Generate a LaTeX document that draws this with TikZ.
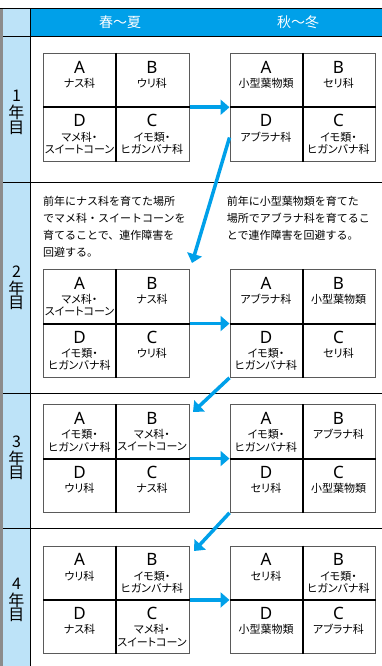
\documentclass[tikz,border=0pt]{standalone}
\usepackage{fontspec}
\setmainfont{Noto Sans}
\newfontfamily\jp{Noto Sans CJK JP}
\newfontfamily\jpp[RawFeature=+palt]{Noto Sans CJK JP}
\usetikzlibrary{arrows.meta,calc}
\definecolor{hblue}{RGB}{0,160,233}
\definecolor{lblue}{RGB}{189,227,248}
\definecolor{gborder}{RGB}{90,90,90}
\definecolor{lgray}{RGB}{140,140,140}
\tikzset{
 letter/.style={font=\fontsize{17}{17}\selectfont, inner sep=0pt},
 lab/.style={font=\jpp\fontsize{11}{11}\selectfont, inner sep=0pt},
 para/.style={font=\jp\fontsize{11}{11}\selectfont, anchor=west, inner sep=0pt},
 yr/.style={font=\jp\fontsize{16}{16}\selectfont, inner sep=0pt},
 hdr/.style={font=\jp\fontsize{14}{14}\selectfont, text=white, inner sep=0pt},
 gridbox/.style={draw=gborder, line width=1pt, fill=white, minimum width=145.5pt, minimum height=107.5pt, inner sep=0pt, anchor=north west},
 cross/.style={line width=2pt, black},
 arr/.style={draw=hblue, line width=3.5pt, -{Triangle[width=15pt,length=9pt]}},
 rule/.style={black, line width=1pt}
}
\newcommand\mkgrid[3]{%
 \node[gridbox] (#1) at (#2,#3) {};
 \draw[cross] (#1.north) -- (#1.south);
 \draw[cross] (#1.west) -- (#1.east);
 \node[letter] (#1A) at (#2+36.5,#3+14) {A};
 \node[letter] (#1B) at (#2+109,#3+14) {B};
 \node[letter] (#1D) at (#2+36.5,#3+67.7) {D};
 \node[letter] (#1C) at (#2+109,#3+67.7) {C};
}
\newcommand\cellt[6]{%
 \node[lab] (#1#2a) at (#3,#4+30.2) {#5};
 \node[lab] (#1#2b) at (#3,#4+42.5) {#6};
}
\begin{document}
\begin{tikzpicture}[x=1pt,y=-1pt]
\useasboundingbox (0,0) rectangle (382,666);
\fill[white] (0,0) rectangle (382,666);
% frame
\fill[hblue] (30.5,9) rectangle (382,36.5);
\fill[lblue] (3,9) rectangle (30.5,666);
\fill[lgray] (0,8.5) rectangle (3,666);
\draw[rule] (0,8.5) -- (382,8.5);
\draw[rule] (30.5,8.5) -- (30.5,666);
\foreach \yy in {36.5,182.5,393.5,528.5} \draw[rule] (3,\yy) -- (382,\yy);
% header
\node[hdr] (h1) at (120,22.5) {春～夏};
\node[hdr] (h2) at (298,22.5) {秋～冬};
% year labels
\node[yr] (y1a) at (16.5,96) {1};
\node[yr] (y1b) at (16.5,112.5) {年};
\node[yr] (y1c) at (16.5,127.5) {目};
\node[yr] (y2a) at (16.5,271.5) {2};
\node[yr] (y2b) at (16.5,288) {年};
\node[yr] (y2c) at (16.5,303) {目};
\node[yr] (y3a) at (16.5,441.5) {3};
\node[yr] (y3b) at (16.5,458) {年};
\node[yr] (y3c) at (16.5,473) {目};
\node[yr] (y4a) at (16.5,583.5) {4};
\node[yr] (y4b) at (16.5,600) {年};
\node[yr] (y4c) at (16.5,615) {目};
% paragraphs
\node[para] (p1) at (43,201) {前年にナス科を育てた場所};
\node[para] (p2) at (43,218) {でマメ科・スイートコーンを};
\node[para] (p3) at (43,235) {育てることで、連作障害を};
\node[para] (p4) at (43,252) {回避する。};
\node[para] (q1) at (226.7,201) {前年に小型葉物類を育てた};
\node[para] (q2) at (226.7,218) {場所でアブラナ科を育てるこ};
\node[para] (q3) at (226.7,235) {とで連作障害を回避する。};
% grids
\mkgrid{gaL}{43}{53}
\cellt{gaL}{a}{79.5}{53}{ナス科}{}
\cellt{gaL}{b}{152}{53}{ウリ科}{}
\cellt{gaL}{d}{79.5}{106.7}{マメ科・}{スイートコーン}
\cellt{gaL}{c}{152}{106.7}{イモ類・}{ヒガンバナ科}
\mkgrid{gaR}{229.5}{53}
\cellt{gaR}{a}{266}{53}{小型葉物類}{}
\cellt{gaR}{b}{338.5}{53}{セリ科}{}
\cellt{gaR}{d}{266}{106.7}{アブラナ科}{}
\cellt{gaR}{c}{338.5}{106.7}{イモ類・}{ヒガンバナ科}
\mkgrid{gbL}{43}{269.3}
\cellt{gbL}{a}{79.5}{269.3}{マメ科・}{スイートコーン}
\cellt{gbL}{b}{152}{269.3}{ナス科}{}
\cellt{gbL}{d}{79.5}{323}{イモ類・}{ヒガンバナ科}
\cellt{gbL}{c}{152}{323}{ウリ科}{}
\mkgrid{gbR}{229.5}{269.3}
\cellt{gbR}{a}{266}{269.3}{アブラナ科}{}
\cellt{gbR}{b}{338.5}{269.3}{小型葉物類}{}
\cellt{gbR}{d}{266}{323}{イモ類・}{ヒガンバナ科}
\cellt{gbR}{c}{338.5}{323}{セリ科}{}
\mkgrid{gcL}{43}{404.3}
\cellt{gcL}{a}{79.5}{404.3}{イモ類・}{ヒガンバナ科}
\cellt{gcL}{b}{152}{404.3}{マメ科・}{スイートコーン}
\cellt{gcL}{d}{79.5}{458}{ウリ科}{}
\cellt{gcL}{c}{152}{458}{ナス科}{}
\mkgrid{gcR}{229.5}{404.3}
\cellt{gcR}{a}{266}{404.3}{イモ類・}{ヒガンバナ科}
\cellt{gcR}{b}{338.5}{404.3}{アブラナ科}{}
\cellt{gcR}{d}{266}{458}{セリ科}{}
\cellt{gcR}{c}{338.5}{458}{小型葉物類}{}
\mkgrid{gdL}{43}{545.7}
\cellt{gdL}{a}{79.5}{545.7}{ウリ科}{}
\cellt{gdL}{b}{152}{545.7}{イモ類・}{ヒガンバナ科}
\cellt{gdL}{d}{79.5}{599.4}{ナス科}{}
\cellt{gdL}{c}{152}{599.4}{マメ科・}{スイートコーン}
\mkgrid{gdR}{229.5}{545.7}
\cellt{gdR}{a}{266}{545.7}{セリ科}{}
\cellt{gdR}{b}{338.5}{545.7}{イモ類・}{ヒガンバナ科}
\cellt{gdR}{d}{266}{599.4}{小型葉物類}{}
\cellt{gdR}{c}{338.5}{599.4}{アブラナ科}{}
% arrows
\draw[arr] (gaL.east) -- (gaR.west);
\draw[arr] (gbL.east) -- (gbR.west);
\draw[arr] (gcL.east) -- (gcR.west);
\draw[arr] (gdL.east) -- (gdR.west);
\coordinate (t1) at (192,263);
\coordinate (t2) at (193,412);
\coordinate (t3) at (194,551);
\draw[arr] ([yshift=24pt]gaR.south west) -- (t1);
\draw[arr] (gbR.south west) -- (t2);
\draw[arr] (gcR.south west) -- (t3);
\end{tikzpicture}
\end{document}
